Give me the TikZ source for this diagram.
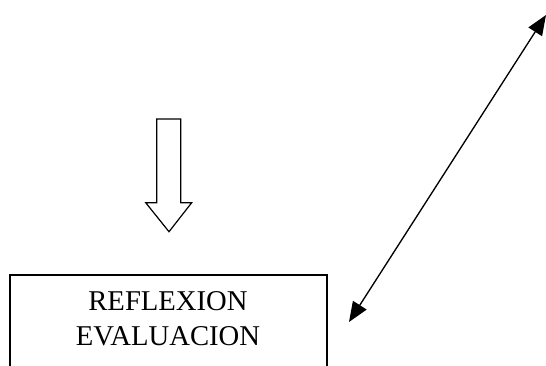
\documentclass[tikz,border=0pt]{standalone}
\usepackage{fontspec}
\setmainfont{Liberation Serif}
\usetikzlibrary{arrows.meta}

\begin{document}
\begin{tikzpicture}[x=0.75pt, y=-0.75pt, line width=1pt,
    every node/.style={font=\fontsize{21.5}{26.25}\selectfont, align=center},
    link/.style={{Triangle[length=15pt,width=12pt]}-{Triangle[length=15pt,width=12pt]}}]
  \useasboundingbox (0,0) rectangle (546,365);
  \clip (0,0) rectangle (546,365);
  % box, open at the bottom edge of the page
  \draw (10,275) rectangle (327,380);
  \node (reflexion) at (168,319) {REFLEXION\\EVALUACION};
  % hollow arrow pointing down to the box
  \draw[line width=0.9pt] (156.7,119) -- (180.7,119) -- (180.7,202.7) -- (191.7,202.7)
    -- (169,231.7) -- (145.7,202.7) -- (156.7,202.7) -- cycle;
  % double arrow
  \coordinate (low) at (349,322);
  \coordinate (high) at (546,15);
  \draw[link] (low) -- (high);
\end{tikzpicture}
\end{document}
